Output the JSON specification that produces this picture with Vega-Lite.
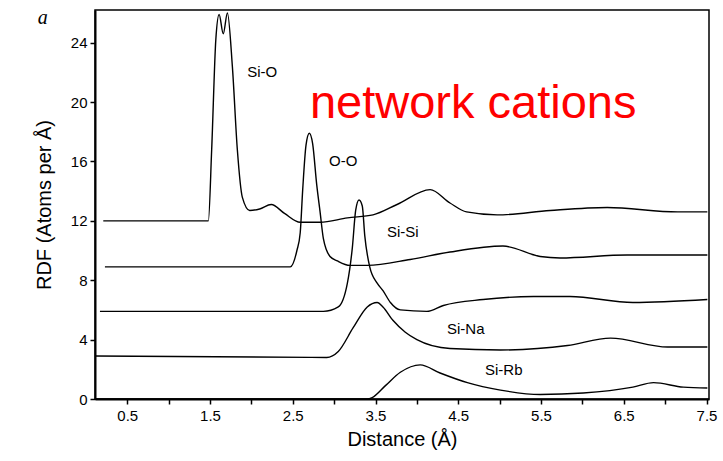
{
  "$schema": "https://vega.github.io/schema/vega-lite/v6.json",
  "width": 614,
  "height": 389,
  "autosize": "none",
  "padding": {"left": 95, "top": 10, "right": 14, "bottom": 62},
  "background": "white",
  "config": {
    "font": "Liberation Sans",
    "view": {"stroke": "black", "strokeWidth": 1.5}
  },
  "datasets": {
    "rdf": [
      {"pair": "Si-O", "d": 0.21, "g": 12.0},
      {"pair": "Si-O", "d": 1.44, "g": 12.0},
      {"pair": "Si-O", "d": 1.48, "g": 12.0},
      {"pair": "Si-O", "d": 1.52, "g": 16.8},
      {"pair": "Si-O", "d": 1.57, "g": 24.2},
      {"pair": "Si-O", "d": 1.61, "g": 25.9},
      {"pair": "Si-O", "d": 1.66, "g": 24.6},
      {"pair": "Si-O", "d": 1.71, "g": 26.0},
      {"pair": "Si-O", "d": 1.77, "g": 22.4},
      {"pair": "Si-O", "d": 1.83, "g": 16.8},
      {"pair": "Si-O", "d": 1.89, "g": 13.6},
      {"pair": "Si-O", "d": 1.98, "g": 12.7},
      {"pair": "Si-O", "d": 2.10, "g": 12.8},
      {"pair": "Si-O", "d": 2.24, "g": 13.1},
      {"pair": "Si-O", "d": 2.40, "g": 12.5},
      {"pair": "Si-O", "d": 2.59, "g": 11.9},
      {"pair": "Si-O", "d": 2.83, "g": 11.9},
      {"pair": "Si-O", "d": 3.16, "g": 12.2},
      {"pair": "Si-O", "d": 3.47, "g": 12.4},
      {"pair": "Si-O", "d": 3.76, "g": 13.1},
      {"pair": "Si-O", "d": 4.16, "g": 14.1},
      {"pair": "Si-O", "d": 4.40, "g": 13.2},
      {"pair": "Si-O", "d": 4.60, "g": 12.6},
      {"pair": "Si-O", "d": 4.97, "g": 12.4},
      {"pair": "Si-O", "d": 5.61, "g": 12.7},
      {"pair": "Si-O", "d": 6.30, "g": 12.9},
      {"pair": "Si-O", "d": 7.15, "g": 12.6},
      {"pair": "Si-O", "d": 7.51, "g": 12.6},

      {"pair": "O-O", "d": 0.23, "g": 8.9},
      {"pair": "O-O", "d": 2.47, "g": 8.9},
      {"pair": "O-O", "d": 2.55, "g": 10.0},
      {"pair": "O-O", "d": 2.59, "g": 11.2},
      {"pair": "O-O", "d": 2.62, "g": 14.1},
      {"pair": "O-O", "d": 2.66, "g": 17.1},
      {"pair": "O-O", "d": 2.70, "g": 17.9},
      {"pair": "O-O", "d": 2.74, "g": 17.2},
      {"pair": "O-O", "d": 2.79, "g": 14.4},
      {"pair": "O-O", "d": 2.83, "g": 12.6},
      {"pair": "O-O", "d": 2.87, "g": 10.8},
      {"pair": "O-O", "d": 2.95, "g": 9.6},
      {"pair": "O-O", "d": 3.04, "g": 9.3},
      {"pair": "O-O", "d": 3.19, "g": 9.0},
      {"pair": "O-O", "d": 3.40, "g": 9.0},
      {"pair": "O-O", "d": 3.92, "g": 9.4},
      {"pair": "O-O", "d": 4.40, "g": 9.9},
      {"pair": "O-O", "d": 5.04, "g": 10.3},
      {"pair": "O-O", "d": 5.49, "g": 9.6},
      {"pair": "O-O", "d": 5.73, "g": 9.5},
      {"pair": "O-O", "d": 6.54, "g": 9.7},
      {"pair": "O-O", "d": 7.51, "g": 9.7},

      {"pair": "Si-Si", "d": 0.17, "g": 5.9},
      {"pair": "Si-Si", "d": 2.87, "g": 5.9},
      {"pair": "Si-Si", "d": 3.05, "g": 6.2},
      {"pair": "Si-Si", "d": 3.16, "g": 7.8},
      {"pair": "Si-Si", "d": 3.22, "g": 10.2},
      {"pair": "Si-Si", "d": 3.26, "g": 12.7},
      {"pair": "Si-Si", "d": 3.30, "g": 13.4},
      {"pair": "Si-Si", "d": 3.34, "g": 13.0},
      {"pair": "Si-Si", "d": 3.37, "g": 11.0},
      {"pair": "Si-Si", "d": 3.43, "g": 8.9},
      {"pair": "Si-Si", "d": 3.52, "g": 7.8},
      {"pair": "Si-Si", "d": 3.59, "g": 7.3},
      {"pair": "Si-Si", "d": 3.68, "g": 6.5},
      {"pair": "Si-Si", "d": 3.80, "g": 6.0},
      {"pair": "Si-Si", "d": 4.12, "g": 5.9},
      {"pair": "Si-Si", "d": 4.32, "g": 6.3},
      {"pair": "Si-Si", "d": 4.80, "g": 6.7},
      {"pair": "Si-Si", "d": 5.41, "g": 6.9},
      {"pair": "Si-Si", "d": 5.85, "g": 6.9},
      {"pair": "Si-Si", "d": 6.61, "g": 6.5},
      {"pair": "Si-Si", "d": 7.51, "g": 6.7},

      {"pair": "Si-Na", "d": 0.11, "g": 2.9},
      {"pair": "Si-Na", "d": 2.91, "g": 2.8},
      {"pair": "Si-Na", "d": 3.05, "g": 3.2},
      {"pair": "Si-Na", "d": 3.23, "g": 4.8},
      {"pair": "Si-Na", "d": 3.40, "g": 6.2},
      {"pair": "Si-Na", "d": 3.52, "g": 6.5},
      {"pair": "Si-Na", "d": 3.59, "g": 6.2},
      {"pair": "Si-Na", "d": 3.71, "g": 5.3},
      {"pair": "Si-Na", "d": 3.86, "g": 4.5},
      {"pair": "Si-Na", "d": 4.00, "g": 4.0},
      {"pair": "Si-Na", "d": 4.40, "g": 3.4},
      {"pair": "Si-Na", "d": 5.01, "g": 3.3},
      {"pair": "Si-Na", "d": 5.82, "g": 3.6},
      {"pair": "Si-Na", "d": 6.34, "g": 4.1},
      {"pair": "Si-Na", "d": 7.03, "g": 3.5},
      {"pair": "Si-Na", "d": 7.51, "g": 3.5},

      {"pair": "Si-Rb", "d": 0.11, "g": 0.0},
      {"pair": "Si-Rb", "d": 3.40, "g": 0.0},
      {"pair": "Si-Rb", "d": 3.46, "g": 0.1},
      {"pair": "Si-Rb", "d": 3.62, "g": 0.9},
      {"pair": "Si-Rb", "d": 3.80, "g": 1.8},
      {"pair": "Si-Rb", "d": 4.04, "g": 2.3},
      {"pair": "Si-Rb", "d": 4.28, "g": 1.75},
      {"pair": "Si-Rb", "d": 4.61, "g": 1.1},
      {"pair": "Si-Rb", "d": 5.01, "g": 0.6},
      {"pair": "Si-Rb", "d": 5.49, "g": 0.3},
      {"pair": "Si-Rb", "d": 6.01, "g": 0.4},
      {"pair": "Si-Rb", "d": 6.61, "g": 0.8},
      {"pair": "Si-Rb", "d": 6.86, "g": 1.1},
      {"pair": "Si-Rb", "d": 7.22, "g": 0.8},
      {"pair": "Si-Rb", "d": 7.51, "g": 0.74}
    ],
    "labels": [
      {"label": "Si-O", "d": 2.13, "g": 22.0},
      {"label": "O-O", "d": 3.11, "g": 16.0},
      {"label": "Si-Si", "d": 3.83, "g": 11.25},
      {"label": "Si-Na", "d": 4.59, "g": 4.7},
      {"label": "Si-Rb", "d": 5.05, "g": 1.95}
    ],
    "note": [
      {"label": "network cations", "d": 4.68, "g": 18.92}
    ],
    "panel": [
      {"label": "a", "d": -0.52, "g": 25.65}
    ]
  },
  "layer": [
    {
      "data": {"name": "rdf"},
      "mark": {"type": "line", "color": "black", "strokeWidth": 1.4, "interpolate": "monotone"},
      "encoding": {
        "x": {
          "field": "d", "type": "quantitative",
          "scale": {"domain": [0.11, 7.53], "nice": false, "zero": false},
          "axis": {
            "title": "Distance (Å)",
            "titleFontSize": 20, "titleFontWeight": "normal", "titleColor": "black", "titlePadding": 6,
            "values": [0.5, 1, 1.5, 2, 2.5, 3, 3.5, 4, 4.5, 5, 5.5, 6, 6.5, 7, 7.5],
            "labelExpr": "datum.value % 1 == 0.5 ? format(datum.value, '.1f') : ''",
            "labelFontSize": 15, "labelColor": "black", "labelPadding": 4,
            "domainColor": "black", "domainWidth": 2,
            "tickColor": "black", "tickSize": 5, "tickWidth": 1.5,
            "grid": false, "labelFlush": false
          }
        },
        "y": {
          "field": "g", "type": "quantitative",
          "scale": {"domain": [0, 26.2], "nice": false},
          "axis": {
            "title": "RDF (Atoms per Å)",
            "titleFontSize": 20, "titleFontWeight": "normal", "titleColor": "black", "titlePadding": 16,
            "values": [0, 2, 4, 6, 8, 10, 12, 14, 16, 18, 20, 22, 24],
            "labelExpr": "datum.value % 4 == 0 ? datum.value : ''",
            "labelFontSize": 15, "labelColor": "black", "labelPadding": 3,
            "domainColor": "black", "domainWidth": 2,
            "tickColor": "black", "tickSize": 5, "tickWidth": 1.5,
            "grid": false
          }
        },
        "detail": {"field": "pair", "type": "nominal"}
      }
    },
    {
      "data": {"name": "labels"},
      "mark": {"type": "text", "fontSize": 15, "color": "black", "align": "center", "baseline": "middle"},
      "encoding": {
        "x": {"field": "d", "type": "quantitative"},
        "y": {"field": "g", "type": "quantitative"},
        "text": {"field": "label"}
      }
    },
    {
      "data": {"name": "note"},
      "mark": {"type": "text", "fontSize": 47, "color": "#ff0000", "align": "center", "baseline": "alphabetic"},
      "encoding": {
        "x": {"field": "d", "type": "quantitative"},
        "y": {"field": "g", "type": "quantitative"},
        "text": {"field": "label"}
      }
    },
    {
      "data": {"name": "panel"},
      "mark": {"type": "text", "fontSize": 20, "fontStyle": "italic", "font": "Liberation Serif", "color": "black", "align": "center", "baseline": "middle"},
      "encoding": {
        "x": {"field": "d", "type": "quantitative"},
        "y": {"field": "g", "type": "quantitative"},
        "text": {"field": "label"}
      }
    }
  ]
}
